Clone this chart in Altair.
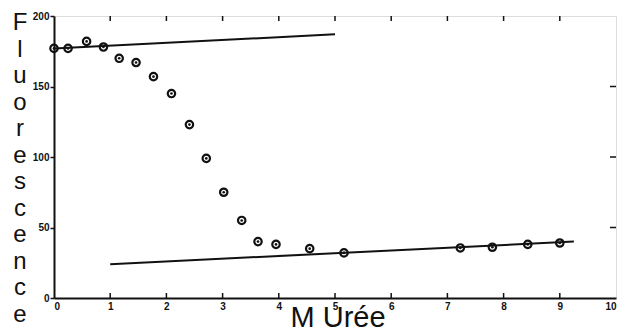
import altair as alt
import pandas as pd

# Measured points: urea concentration (M) vs fluorescence
urea = [0, 0.25, 0.58, 0.88, 1.16, 1.46, 1.77, 2.09, 2.41, 2.71, 3.02, 3.34,
        3.63, 3.95, 4.55, 5.16, 7.23, 7.8, 8.43, 9.0]
fluo = [177, 177, 182, 178, 170, 167, 157, 145, 123, 99, 75, 55,
        40, 38, 35, 32, 35.5, 36, 38, 39]

# Baselines (native / denatured)
upper_x = [0, 5]
upper_y = [177, 187]
lower_x = [1, 9.25]
lower_y = [24, 40]

x_ticks = [0, 1, 2, 3, 4, 5, 6, 7, 8, 9, 10]
y_ticks = [0, 50, 100, 150, 200]
inner_x_ticks = [1, 2, 3, 4, 5, 6, 7, 8, 9]
inner_y_ticks = [50, 100, 150]

y_title = "Fluorescence"
x_title = "M Urée"

W, H = 562, 282

pts = pd.DataFrame({"urea": urea, "fluo": fluo})
lines = pd.DataFrame({
    "urea": upper_x + lower_x,
    "fluo": upper_y + lower_y,
    "seg": ["native"] * 2 + ["denatured"] * 2,
})

xs = alt.Scale(domain=[0, 10], nice=False, zero=False)
ys = alt.Scale(domain=[0, 200], nice=False, zero=False)

lab_font = "Liberation Sans"

x_axis = alt.Axis(values=x_ticks, format="d", title=None, grid=False,
                  tickSize=0, labelPadding=3, labelFontSize=10,
                  labelFontWeight="bold", labelFont=lab_font,
                  labelColor="#111", domainColor="#111", domainWidth=2)
y_axis = alt.Axis(values=y_ticks, format="d", title=None, grid=False,
                  tickSize=4, tickWidth=1.5, tickColor="#111", labelPadding=1,
                  labelFontSize=10, labelFontWeight="bold", labelFont=lab_font,
                  labelColor="#111", domainColor="#111", domainWidth=2)

base = alt.Chart(pts)

rings = base.mark_point(shape="circle", filled=False, stroke="#111",
                        strokeWidth=2.2, size=55, opacity=1).encode(
    x=alt.X("urea:Q", scale=xs, axis=x_axis),
    y=alt.Y("fluo:Q", scale=ys, axis=y_axis),
)
dots = base.mark_point(shape="circle", filled=True, color="#111", size=7,
                       opacity=1).encode(
    x=alt.X("urea:Q", scale=xs),
    y=alt.Y("fluo:Q", scale=ys),
)

seglines = alt.Chart(lines).mark_line(color="#111", strokeWidth=2).encode(
    x=alt.X("urea:Q", scale=xs),
    y=alt.Y("fluo:Q", scale=ys),
    detail="seg:N",
)

tx = pd.DataFrame({"v": inner_x_ticks})
ty = pd.DataFrame({"v": inner_y_ticks})

bottom_ticks = alt.Chart(tx).mark_rule(color="#111", strokeWidth=1.5).encode(
    x=alt.X("v:Q", scale=xs), y=alt.value(H), y2=alt.value(H - 5))
top_ticks = alt.Chart(tx).mark_rule(color="#111", strokeWidth=1.5).encode(
    x=alt.X("v:Q", scale=xs), y=alt.value(0), y2=alt.value(5))
right_ticks = alt.Chart(ty).mark_rule(color="#111", strokeWidth=1.5).encode(
    y=alt.Y("v:Q", scale=ys), x=alt.value(W), x2=alt.value(W - 6))

ytitle = alt.Chart(pd.DataFrame({"t": [0]})).mark_text(
    text=list(y_title), font="Liberation Sans", fontSize=24, lineHeight=26.5,
    align="center", baseline="top", color="#111",
).encode(x=alt.value(-34), y=alt.value(-5))

xtitle = alt.Chart(pd.DataFrame({"t": [0]})).mark_text(
    text=x_title, font="Liberation Sans", fontSize=29, align="center",
    baseline="alphabetic", color="#111",
).encode(x=alt.value(284), y=alt.value(311))

chart = alt.layer(
    seglines, rings, dots, bottom_ticks, top_ticks, right_ticks, ytitle, xtitle
).properties(
    width=W, height=H,
    autosize=alt.AutoSizeParams(type="none"),
    padding={"left": 46, "top": 8, "right": 4, "bottom": 31},
).configure_view(
    stroke="#111", strokeWidth=2
).configure(background="white")

chart.save("out.html", embed_options={"renderer": "svg", "actions": False})
